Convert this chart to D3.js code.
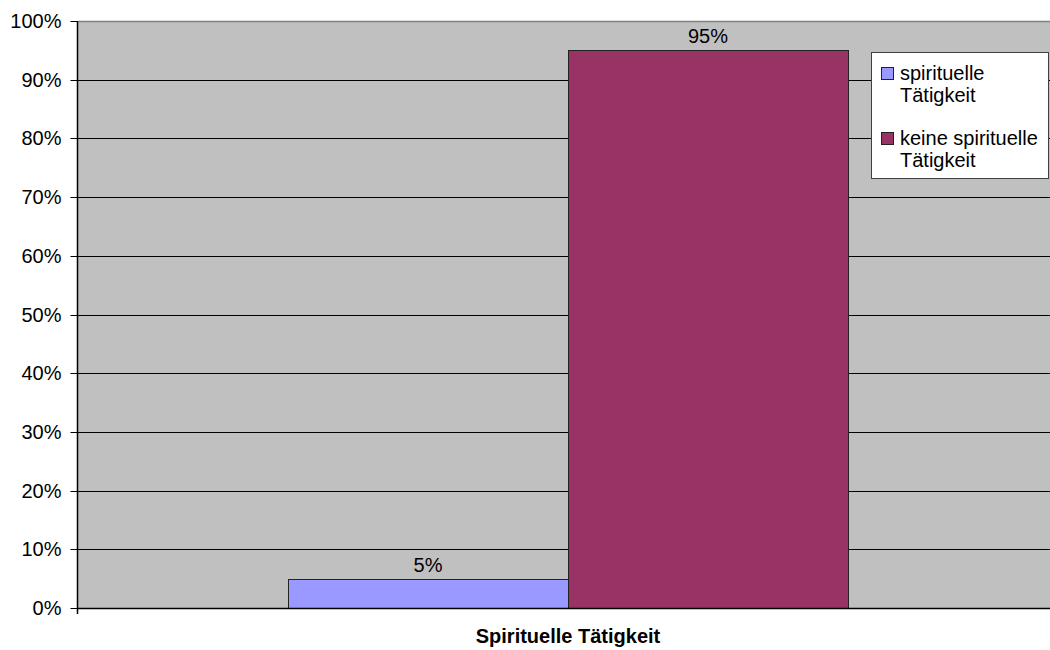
<!DOCTYPE html>
<html>
<head>
<meta charset="utf-8">
<script src="https://cdn.jsdelivr.net/npm/d3@7"></script>
<style>
  html, body { margin: 0; padding: 0; background: #ffffff; }
  svg { display: block; font-family: "Liberation Sans", Arial, sans-serif; }
</style>
</head>
<body>
<svg id="chart" width="1050" height="650"></svg>
<script>
const categories = ["Spirituelle Tätigkeit"];
const seriesNames = ["spirituelle Tätigkeit", "keine spirituelle Tätigkeit"];
const seriesLegendLines = [["spirituelle", "Tätigkeit"], ["keine spirituelle", "Tätigkeit"]];
const seriesValues = [5, 95];
const seriesColors = ["#9999FF", "#993366"];
const tickValues = [0, 10, 20, 30, 40, 50, 60, 70, 80, 90, 100];

(function () {
const svg = d3.select("#chart");
const pLeft = 78, pRight = 1058, pTop = 21, pBottom = 608;

const x0 = d3.scaleBand().domain(categories).range([pLeft, pRight]).paddingInner(0).paddingOuter(0.375);
const x1 = d3.scaleBand().domain(seriesNames).range([0, x0.bandwidth()]).padding(0);
const y = d3.scaleLinear().domain([0, 100]).range([pBottom, pTop]);
const snap = v => Math.round(v) + 0.5;

// plot background
svg.append("rect").attr("x", pLeft).attr("y", pTop).attr("width", pRight - pLeft).attr("height", pBottom - pTop)
  .attr("fill", "#C0C0C0");

// gridlines
svg.append("g").selectAll("line").data(tickValues.filter(d => d > 0 && d < 100)).join("line")
  .attr("x1", pLeft).attr("x2", pRight)
  .attr("y1", d => snap(y(d))).attr("y2", d => snap(y(d)))
  .attr("stroke", "#000").attr("stroke-width", 1);
// top border
svg.append("line").attr("x1", pLeft).attr("x2", pRight).attr("y1", snap(y(100))).attr("y2", snap(y(100)))
  .attr("stroke", "#808080").attr("stroke-width", 1.5);

// bars
const cat = categories[0];
svg.append("g").selectAll("rect").data(seriesNames).join("rect")
  .attr("x", (d) => snap(x0(cat) + x1(d)))
  .attr("y", (d, i) => snap(y(seriesValues[i])))
  .attr("width", x1.bandwidth())
  .attr("height", (d, i) => snap(y(0)) - snap(y(seriesValues[i])))
  .attr("fill", (d, i) => seriesColors[i])
  .attr("stroke", "#222").attr("stroke-width", 1);

// data labels
svg.append("g").selectAll("text").data(seriesNames).join("text")
  .attr("x", d => x0(cat) + x1(d) + x1.bandwidth() / 2)
  .attr("y", (d, i) => y(seriesValues[i]) - 7)
  .attr("text-anchor", "middle").attr("font-size", 20).attr("fill", "#000")
  .text((d, i) => seriesValues[i] + "%");

// y axis
const yAxis = d3.axisLeft(y).tickValues(tickValues).tickFormat(d => d + "%").tickSize(7).tickPadding(9);
const gy = svg.append("g").attr("transform", `translate(${pLeft - 0.5},0.5)`).call(yAxis);
gy.select(".domain").remove();
gy.selectAll(".tick line").attr("stroke", "#000");
gy.selectAll(".tick").attr("transform", d => `translate(0,${Math.round(y(d))})`);
gy.selectAll(".tick text").attr("font-size", 20).attr("font-family", "Liberation Sans, Arial, sans-serif")
  .attr("fill", "#000").attr("dy", "0.33em");
svg.append("line").attr("x1", pLeft - 0.5).attr("x2", pLeft - 0.5).attr("y1", pTop).attr("y2", pBottom + 6)
  .attr("stroke", "#000").attr("stroke-width", 1.5);

// x axis baseline
svg.append("line").attr("x1", pLeft).attr("x2", pRight).attr("y1", snap(y(0))).attr("y2", snap(y(0)))
  .attr("stroke", "#000").attr("stroke-width", 1.5);

// x category label
svg.append("text").attr("x", x0(cat) + x0.bandwidth() / 2).attr("y", 643)
  .attr("text-anchor", "middle").attr("font-size", 20).attr("font-weight", "bold").attr("fill", "#000")
  .text(cat);

// legend
const lg = svg.append("g");
lg.append("rect").attr("x", 871.5).attr("y", 52.5).attr("width", 177).attr("height", 126)
  .attr("fill", "#fff").attr("stroke", "#404040").attr("stroke-width", 1);
const itemY = [67, 132];
seriesNames.forEach((s, i) => {
  lg.append("rect").attr("x", 881.5).attr("y", itemY[i] + 0.5).attr("width", 12).attr("height", 12)
    .attr("fill", seriesColors[i]).attr("stroke", "#222").attr("stroke-width", 1);
  const t = lg.append("text").attr("x", 900).attr("y", itemY[i] + 13).attr("font-size", 20).attr("fill", "#000");
  seriesLegendLines[i].forEach((line, j) => {
    t.append("tspan").attr("x", 900).attr("dy", j === 0 ? 0 : 22).text(line);
  });
});
})();
</script>
</body>
</html>
